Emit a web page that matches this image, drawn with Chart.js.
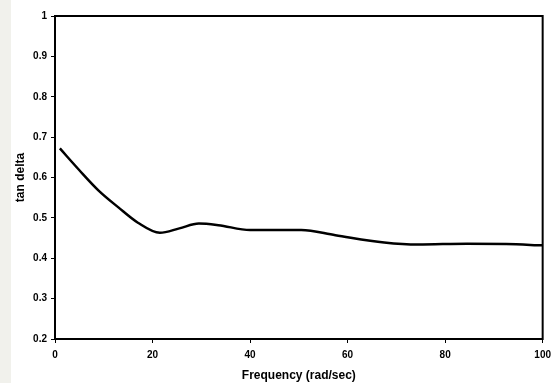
<!DOCTYPE html>
<html lang="en">
<head>
    <meta charset="UTF-8">
    <title>tan delta vs frequency</title>
    <script src="https://cdn.jsdelivr.net/npm/chart.js"></script>
    <style>
        body {
            margin: 0;
            background: #ffffff;
        }
        #strip {
            position: absolute;
            left: 0;
            top: 0;
            width: 11px;
            height: 383px;
            background: #f1f1ec;
        }
        #chart {
            position: absolute;
            left: 0;
            top: 0;
        }
    </style>
</head>
<body>
    <div id="strip"></div>
    <canvas id="chart" width="557" height="383"></canvas>

    <script>
        // valores
        const frequency = [1, 5, 9, 13, 17, 21.5, 25.5, 29.5, 33.5, 40, 46, 50.5, 57.5, 67.5, 74.5, 84.5, 92.5, 100];
        const tanDelta = [0.672, 0.618, 0.567, 0.526, 0.488, 0.463, 0.474, 0.486, 0.482, 0.470, 0.470, 0.470, 0.457, 0.439, 0.434, 0.436, 0.435, 0.432];

        const fonte = 'Arial, "Liberation Sans", sans-serif';

        // moldura em volta da área do gráfico
        const moldura = {
            id: 'moldura',
            afterDraw(chart) {
                const a = chart.chartArea;
                const ctx = chart.ctx;
                ctx.save();
                ctx.strokeStyle = '#000';
                ctx.lineWidth = 2;
                ctx.strokeRect(a.left, a.top, a.right - a.left, a.bottom - a.top);
                ctx.restore();
            }
        };

        new Chart(document.getElementById('chart'), {
            type: 'scatter',
            data: {
                datasets: [{
                    data: frequency.map((f, i) => ({x: f, y: tanDelta[i]})),
                    showLine: true,
                    borderColor: '#000',
                    borderWidth: 2.5,
                    pointRadius: 0,
                    cubicInterpolationMode: 'monotone'
                }]
            },
            options: {
                responsive: false,
                animation: false,
                layout: {
                    padding: {left: 11, top: 16, right: 11, bottom: 0}
                },
                plugins: {
                    legend: {display: false},
                    tooltip: {enabled: false}
                },
                scales: {
                    x: {
                        type: 'linear',
                        min: 0,
                        max: 100,
                        afterFit: s => { s.height = 44; },
                        ticks: {
                            stepSize: 20,
                            color: '#000',
                            padding: 6,
                            font: {family: fonte, size: 10, weight: 'bold'}
                        },
                        grid: {drawOnChartArea: false, tickLength: 4, color: '#000'},
                        border: {color: '#000', width: 2},
                        title: {
                            display: true,
                            text: 'Frequency (rad/sec)',
                            color: '#000',
                            padding: {top: 4, bottom: 0},
                            font: {family: fonte, size: 12, weight: 'bold'}
                        }
                    },
                    y: {
                        type: 'linear',
                        min: 0.2,
                        max: 1,
                        afterFit: s => { s.width = 44; },
                        ticks: {
                            stepSize: 0.1,
                            color: '#000',
                            padding: 4,
                            font: {family: fonte, size: 10, weight: 'bold'},
                            callback: v => String(Math.round(v * 10) / 10)
                        },
                        grid: {drawOnChartArea: false, tickLength: 4, color: '#000'},
                        border: {color: '#000', width: 2},
                        title: {
                            display: true,
                            text: 'tan delta',
                            color: '#000',
                            padding: {top: 2, bottom: 0},
                            font: {family: fonte, size: 12, weight: 'bold'}
                        }
                    }
                }
            },
            plugins: [moldura]
        });
    </script>
</body>
</html>
